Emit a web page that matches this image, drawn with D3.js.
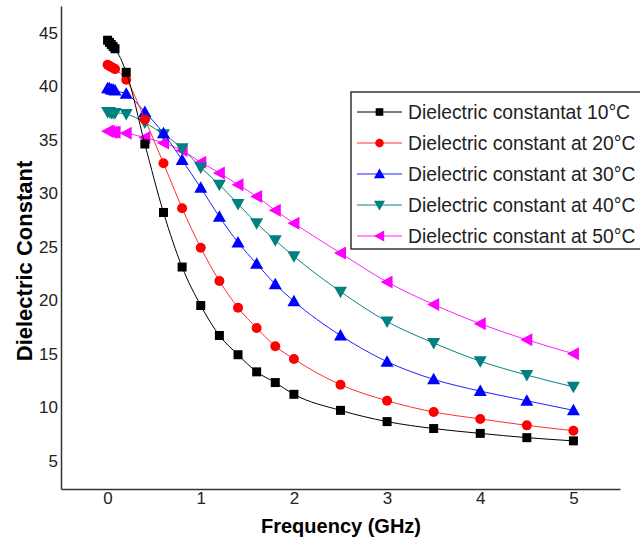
<!DOCTYPE html>
<html>
<head>
<meta charset="utf-8">
<script src="https://cdn.jsdelivr.net/npm/d3@7"></script>
<style>
  body { margin: 0; background: #fff; }
  svg { font-family: Arial, "Liberation Sans", sans-serif; }
</style>
</head>
<body>
<svg id="chart"></svg>
<script>
// frequency (GHz)
var freq = [0, 0.02, 0.04, 0.06, 0.08, 0.2, 0.4, 0.6, 0.8, 1.0, 1.2, 1.4, 1.6, 1.8, 2.0, 2.5, 3.0, 3.5, 4.0, 4.5, 5.0];

var eps10 = [44.3, 44.1, 43.9, 43.7, 43.5, 41.3, 34.6, 28.2, 23.1, 19.5, 16.7, 14.9, 13.3, 12.3, 11.2, 9.7, 8.65, 8.0, 7.55, 7.15, 6.85];
var eps20 = [42.0, 41.9, 41.8, 41.7, 41.6, 40.6, 36.9, 32.8, 28.6, 24.9, 21.8, 19.3, 17.4, 15.7, 14.5, 12.1, 10.6, 9.55, 8.9, 8.3, 7.8];
var eps30 = [39.8, 39.8, 39.7, 39.7, 39.6, 39.3, 37.6, 35.6, 33.1, 30.5, 27.8, 25.4, 23.4, 21.5, 19.9, 16.7, 14.25, 12.6, 11.5, 10.6, 9.7];
var eps40 = [37.6, 37.6, 37.5, 37.5, 37.5, 37.4, 36.6, 35.5, 34.2, 32.4, 30.8, 29.0, 27.2, 25.6, 24.1, 20.8, 18.0, 16.0, 14.3, 13.0, 11.9];
var eps50 = [35.8, 35.8, 35.7, 35.7, 35.7, 35.6, 35.2, 34.7, 34.0, 32.9, 31.9, 30.8, 29.7, 28.4, 27.2, 24.4, 21.7, 19.6, 17.8, 16.3, 15.0];

var labels = [
  "Dielectric constantat 10°C",
  "Dielectric constant at 20°C",
  "Dielectric constant at 30°C",
  "Dielectric constant at 40°C",
  "Dielectric constant at 50°C"
];
var colors = ["#000000", "#ff0000", "#0000ff", "#008080", "#ff00ff"];
var lineColors = ["#000000", "#ff3030", "#2020ff", "#108080", "#ff20ff"];
var shapes = ["square", "circle", "up", "down", "left"];

var xTicks = [0, 1, 2, 3, 4, 5];
var yTicks = [5, 10, 15, 20, 25, 30, 35, 40, 45];

var series = [eps10, eps20, eps30, eps40, eps50].map(function (vals, i) {
  return {
    label: labels[i],
    color: colors[i],
    lineColor: lineColors[i],
    shape: shapes[i],
    points: vals.map(function (v, j) { return { f: freq[j], e: v }; })
  };
});

var width = 640, height = 543;
var svg = d3.select("#chart").attr("width", width).attr("height", height);

var x = d3.scaleLinear().domain([-0.5, 5.5]).range([61, 620]);
var y = d3.scaleLinear().domain([2.35, 47.5]).range([489, 6]);

function markerPath(shape) {
  if (shape === "square") return "M-4.5,-4.5H4.5V4.5H-4.5Z";
  if (shape === "circle") return "M-5,0A5,5 0 1,0 5,0A5,5 0 1,0 -5,0Z";
  if (shape === "up") return "M0,-6.5L6.5,5L-6.5,5Z";
  if (shape === "down") return "M0,6.5L6.5,-5L-6.5,-5Z";
  return "M-6.5,0L5.5,-6.5L5.5,6.5Z";
}

// axes
svg.append("g")
  .attr("transform", "translate(61,0)")
  .call(d3.axisLeft(y).tickValues(yTicks).tickSize(0).tickPadding(3))
  .call(function (g) {
    g.select(".domain").attr("stroke", "#333").attr("stroke-width", 1.5);
    g.selectAll("text").attr("font-size", 17).attr("fill", "#222");
  });

svg.append("g")
  .attr("transform", "translate(0,489)")
  .call(d3.axisBottom(x).tickValues(xTicks).tickFormat(d3.format("d")).tickSize(0).tickPadding(3))
  .call(function (g) {
    g.select(".domain").attr("stroke", "#333").attr("stroke-width", 1.5);
    g.selectAll("text").attr("font-size", 17).attr("fill", "#222");
  });

svg.append("text")
  .attr("x", 341)
  .attr("y", 533)
  .attr("text-anchor", "middle")
  .attr("font-size", 20)
  .attr("font-weight", "bold")
  .text("Frequency (GHz)");

svg.append("text")
  .attr("transform", "translate(32,261) rotate(-90)")
  .attr("text-anchor", "middle")
  .attr("font-size", 22)
  .attr("font-weight", "bold")
  .text("Dielectric Constant");

// series, drawn 50 -> 10 so black ends on top
var line = d3.line()
  .x(function (d) { return x(d.f); })
  .y(function (d) { return y(d.e); })
  .curve(d3.curveMonotoneX);

series.slice().reverse().forEach(function (s) {
  var g = svg.append("g");
  g.append("path")
    .datum(s.points)
    .attr("fill", "none")
    .attr("stroke", s.lineColor)
    .attr("stroke-width", 1)
    .attr("d", line);
  g.selectAll("path.m")
    .data(s.points)
    .join("path")
    .attr("class", "m")
    .attr("d", markerPath(s.shape))
    .attr("transform", function (d) { return "translate(" + x(d.f) + "," + y(d.e) + ")"; })
    .attr("fill", s.color);
});

// legend (box runs off the right edge like the original)
var legend = svg.append("g").attr("transform", "translate(351,92)");
legend.append("rect")
  .attr("width", 320)
  .attr("height", 157)
  .attr("fill", "#fff")
  .attr("stroke", "#333")
  .attr("stroke-width", 1.5);

var rows = legend.selectAll("g.row")
  .data(series)
  .join("g")
  .attr("class", "row")
  .attr("transform", function (d, i) { return "translate(0," + (20 + i * 31) + ")"; });

rows.append("line")
  .attr("x1", 6).attr("x2", 51)
  .attr("stroke", function (d) { return d.lineColor; })
  .attr("stroke-width", 1);
rows.append("path")
  .attr("transform", "translate(28.5,0) scale(0.85)")
  .attr("d", function (d) { return markerPath(d.shape); })
  .attr("fill", function (d) { return d.color; });
rows.append("text")
  .attr("x", 57)
  .attr("y", 7)
  .attr("font-size", 19.3)
  .attr("fill", "#222")
  .text(function (d) { return d.label; });
</script>
</body>
</html>
